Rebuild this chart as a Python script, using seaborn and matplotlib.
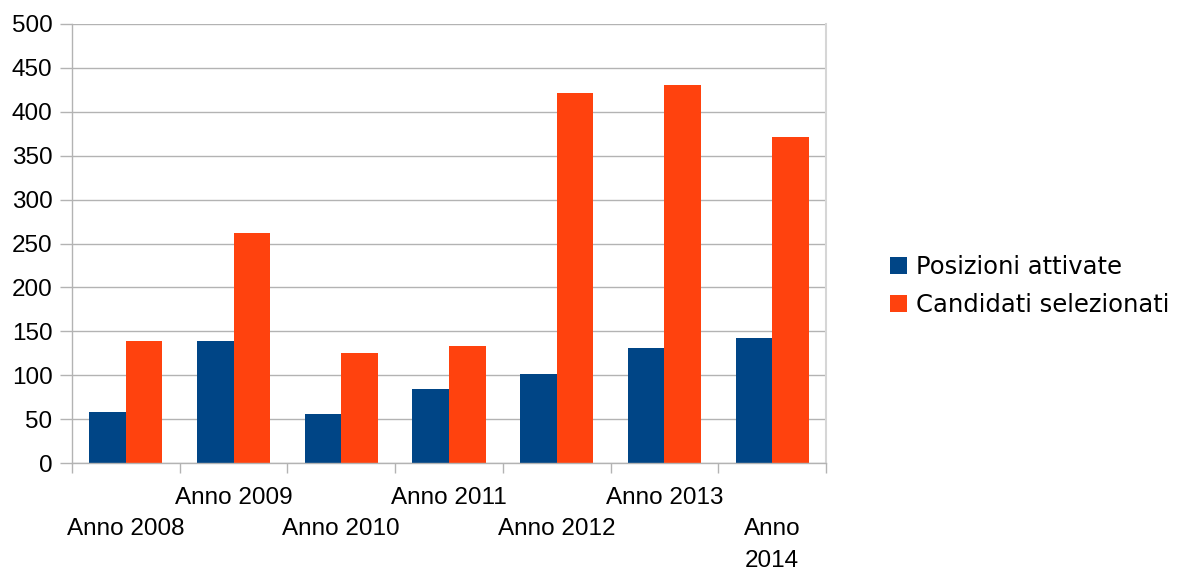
import matplotlib
matplotlib.use("Agg")
import matplotlib.pyplot as plt
from matplotlib.patches import Patch
import seaborn as sns
import pandas as pd

# data
years = ["Anno 2008", "Anno 2009", "Anno 2010", "Anno 2011",
         "Anno 2012", "Anno 2013", "Anno 2014"]
posizioni = [58, 139, 56, 84, 101, 131, 142]
candidati = [139, 262, 125, 133, 421, 430, 371]
series_names = ["Posizioni attivate", "Candidati selezionati"]
tick_labels = ["\nAnno 2008", "Anno 2009", "\nAnno 2010", "Anno 2011",
               "\nAnno 2012", "Anno 2013", "\nAnno\n2014"]

colors = {"Posizioni attivate": "#004586", "Candidati selezionati": "#ff420e"}
grid_col = "#b3b3b3"

data = pd.DataFrame({
    "anno": years * 2,
    "serie": [series_names[0]] * len(years) + [series_names[1]] * len(years),
    "valore": posizioni + candidati,
})

sns.set_style("white")
plt.rcParams["font.family"] = ["Liberation Sans", "DejaVu Sans"]
plt.rcParams["text.color"] = "black"
plt.rcParams["xtick.labelcolor"] = "black"
plt.rcParams["ytick.labelcolor"] = "black"

fig = plt.figure(figsize=(11.87, 5.71), dpi=100)
ax = fig.add_axes([72 / 1187, 1 - 463 / 571, (826 - 72) / 1187, (463 - 24) / 571])

sns.barplot(data=data, x="anno", y="valore", hue="serie", order=years,
            hue_order=series_names, palette=colors, width=0.68,
            saturation=1, ax=ax, legend=False, linewidth=0)

ax.set_xlim(-0.5, len(years) - 0.5)
ax.set_ylim(0, 500)
ax.set_yticks(range(0, 501, 50))
ax.yaxis.grid(True, color=grid_col, linewidth=1.0)
ax.set_axisbelow(True)
ax.set_xlabel("")
ax.set_ylabel("")

# category boundaries carry the tick marks, labels sit at centres
ax.set_xticks([i - 0.5 for i in range(len(years) + 1)])
ax.set_xticklabels([""] * (len(years) + 1))
ax.set_xticks(range(len(years)), minor=True)
ax.set_xticklabels(tick_labels, minor=True, fontsize=17.5, linespacing=1.56,
                   color="black")
ax.tick_params(axis="x", which="major", length=7, width=1, color=grid_col,
               direction="out", bottom=True)
ax.tick_params(axis="x", which="minor", length=0, pad=17, bottom=True)
ax.tick_params(axis="y", length=8.5, width=1, color=grid_col, direction="out",
               pad=5.5, labelsize=17.5, left=True, labelcolor="black")

for side in ["left", "bottom"]:
    ax.spines[side].set_color(grid_col)
    ax.spines[side].set_linewidth(1.0)
ax.spines["right"].set_color("#d6d6d6")
ax.spines["right"].set_linewidth(1.5)
ax.spines["top"].set_visible(False)

handles = [Patch(facecolor=colors[s], edgecolor="none") for s in series_names]
leg = fig.legend(handles, series_names, loc="center left",
                 bbox_to_anchor=(890 / 1187, 1 - 286 / 571), frameon=False,
                 prop={"family": "DejaVu Sans", "size": 17.5},
                 handlelength=0.7, handleheight=0.7, handletextpad=0.35,
                 labelspacing=0.6, borderpad=0, borderaxespad=0)
for t in leg.get_texts():
    t.set_color("black")

fig.savefig("out.png", dpi=100)
